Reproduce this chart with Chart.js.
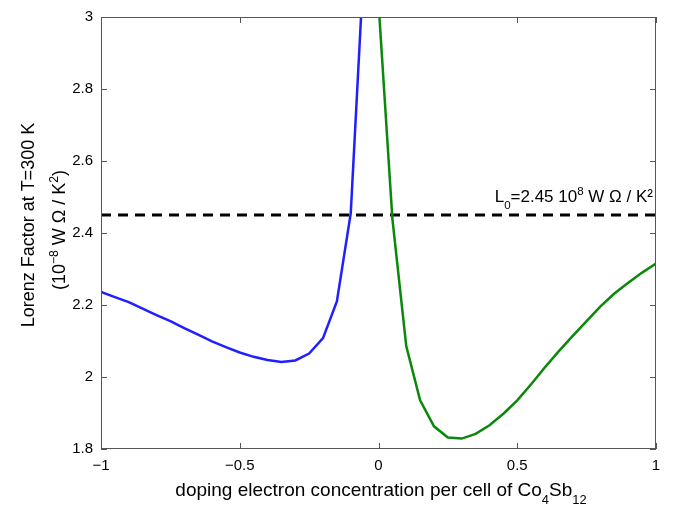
<!DOCTYPE html>
<html>
<head>
<meta charset="utf-8">
<script src="https://cdn.jsdelivr.net/npm/chart.js@4.4.1/dist/chart.umd.min.js"></script>
<style>
  html, body { margin: 0; padding: 0; background: #fff; }
  #wrap { width: 689px; height: 508px; }
</style>
</head>
<body>
<div id="wrap"><canvas id="lorenzChart"></canvas></div>
<script>
// data (step 0.05 in doping)
const holeX = [-1, -0.95, -0.9, -0.85, -0.8, -0.75, -0.7, -0.65, -0.6, -0.55, -0.5,
               -0.45, -0.4, -0.35, -0.3, -0.25, -0.2, -0.15, -0.1, -0.05];
const holeL = [2.236, 2.222, 2.208, 2.19, 2.172, 2.155, 2.136, 2.118, 2.099, 2.083, 2.068,
               2.056, 2.047, 2.042, 2.046, 2.065, 2.108, 2.21, 2.455, 3.19];
const elecX = [0, 0.05, 0.1, 0.15, 0.2, 0.25, 0.3, 0.35, 0.4, 0.45, 0.5,
               0.55, 0.6, 0.65, 0.7, 0.75, 0.8, 0.85, 0.9, 0.95, 1];
const elecL = [3.04, 2.44, 2.086, 1.935, 1.863, 1.832, 1.829, 1.842, 1.866, 1.898, 1.935,
               1.98, 2.027, 2.072, 2.114, 2.155, 2.196, 2.232, 2.262, 2.29, 2.315];
const L0 = 2.45;
const xTicks = [-1, -0.5, 0, 0.5, 1];
const yTicks = [1.8, 2, 2.2, 2.4, 2.6, 2.8, 3];

const FONT = '"Liberation Sans", Arial, Helvetica, sans-serif';

function toPts(xs, ys) {
    return xs.map((x, i) => ({ x: x, y: ys[i] }));
}

// texte avec indices / exposants: [text, mode] mode = '', 'sub', 'sup'
function richWidth(ctx, parts, size) {
    let w = 0;
    parts.forEach(p => {
        ctx.font = (p[1] ? size * 0.68 : size) + 'px ' + FONT;
        w += ctx.measureText(p[0]).width;
    });
    return w;
}
function drawRich(ctx, parts, x, y, size) {
    let cx = x;
    parts.forEach(p => {
        const s = p[1] ? size * 0.68 : size;
        ctx.font = s + 'px ' + FONT;
        let dy = 0;
        if (p[1] === 'sub') dy = size * 0.42;
        if (p[1] === 'sup') dy = -size * 0.4;
        ctx.fillText(p[0], cx, y + dy);
        cx += ctx.measureText(p[0]).width;
    });
}

const boxPlugin = {
    id: 'boxPlugin',
    afterDraw(chart) {
        const ctx = chart.ctx;
        const a = chart.chartArea;
        const xs = chart.scales.x, ys = chart.scales.y;
        ctx.save();
        ctx.strokeStyle = '#555';
        ctx.lineWidth = 1;
        ctx.strokeRect(a.left + 0.5, a.top + 0.5, a.right - a.left - 1, a.bottom - a.top - 1);
        // ticks pointing inwards, like matlab
        ctx.beginPath();
        xTicks.forEach(v => {
            const px = Math.round(xs.getPixelForValue(v)) + 0.5;
            ctx.moveTo(px, a.bottom); ctx.lineTo(px, a.bottom - 6);
            ctx.moveTo(px, a.top); ctx.lineTo(px, a.top + 6);
        });
        yTicks.forEach(v => {
            const py = Math.round(ys.getPixelForValue(v)) + 0.5;
            ctx.moveTo(a.left, py); ctx.lineTo(a.left + 6, py);
            ctx.moveTo(a.right, py); ctx.lineTo(a.right - 6, py);
        });
        ctx.stroke();

        ctx.fillStyle = '#000';
        ctx.textBaseline = 'alphabetic';
        ctx.textAlign = 'left';

        // titre axe x
        const xt = [['doping electron concentration per cell of Co', ''], ['4', 'sub'], ['Sb', ''], ['12', 'sub']];
        const wx = richWidth(ctx, xt, 19);
        drawRich(ctx, xt, 381 - wx / 2, 496, 19);

        // label L0
        const lt = [['L', ''], ['0', 'sub'], ['=2.45 10', ''], ['8', 'sup'], [' W \u03A9 / K\u00B2', '']];
        const wl = richWidth(ctx, lt, 17);
        drawRich(ctx, lt, a.right - 3 - wl, 202, 17);

        // titre axe y (deux lignes)
        ctx.rotate(-Math.PI / 2);
        const y1 = [['Lorenz Factor at T=300 K', '']];
        const w1 = richWidth(ctx, y1, 18);
        drawRich(ctx, y1, -225 - w1 / 2, 34, 18);
        const y2 = [['(10', ''], ['\u22128', 'sup'], [' W \u03A9 / K', ''], ['2', 'sup'], [')', '']];
        const w2 = richWidth(ctx, y2, 18);
        drawRich(ctx, y2, -230 - w2 / 2, 65, 18);
        ctx.restore();
    }
};

const ctx = document.getElementById('lorenzChart').getContext('2d');
const lorenzChart = new Chart(ctx, {
    type: 'line',
    data: {
        datasets: [
            { label: 'p-type', data: toPts(holeX, holeL), borderColor: '#1f1fff', borderWidth: 2.5, pointRadius: 0, tension: 0, fill: false },
            { label: 'n-type', data: toPts(elecX, elecL), borderColor: '#0a880a', borderWidth: 2.5, pointRadius: 0, tension: 0, fill: false },
            { label: 'L0', data: [{ x: -1, y: L0 }, { x: 1, y: L0 }], borderColor: '#000', borderWidth: 3, borderDash: [10, 7], pointRadius: 0, fill: false }
        ]
    },
    options: {
        responsive: true, maintainAspectRatio: false, animation: false,
        layout: { padding: { left: 0, right: 33, top: 13, bottom: 0 } },
        plugins: { legend: { display: false }, tooltip: { enabled: false } },
        scales: {
            x: {
                type: 'linear', min: -1, max: 1,
                grid: { display: false, drawTicks: false },
                border: { display: false },
                afterBuildTicks: (s) => { s.ticks = xTicks.map(v => ({ value: v })); },
                afterFit: (s) => { s.height = 59; },
                ticks: {
                    padding: 8, color: '#000', font: { family: FONT, size: 15 },
                    callback: (v) => String(v).replace('-', '\u2212')
                }
            },
            y: {
                min: 1.8, max: 3,
                grid: { display: false, drawTicks: false },
                border: { display: false },
                afterBuildTicks: (s) => { s.ticks = yTicks.map(v => ({ value: v })); },
                afterFit: (s) => { s.width = 101; },
                ticks: {
                    padding: 8, color: '#000', font: { family: FONT, size: 15 },
                    callback: (v) => String(Math.round(v * 10) / 10)
                }
            }
        }
    },
    plugins: [boxPlugin]
});
</script>
</body>
</html>
